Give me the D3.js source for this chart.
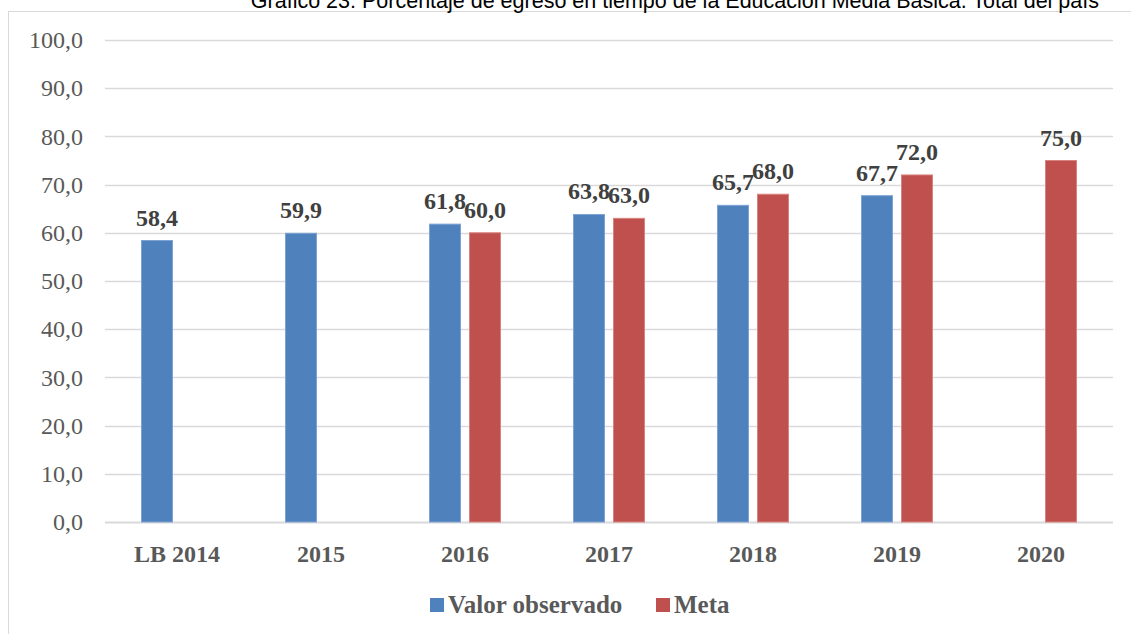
<!DOCTYPE html>
<html>
<head>
<meta charset="utf-8">
<script src="https://cdn.jsdelivr.net/npm/d3@7"></script>
<style>
  body { margin: 0; background: #fff; }
  svg { display: block; }
</style>
</head>
<body>
<div id="container"></div>
<script>
/* CONSTANTS AND GLOBALS */
const width = 1131,
  height = 634,
  margin = { top: 40, bottom: 112, left: 105, right: 18 };

// DATA
const categories = ["LB 2014", "2015", "2016", "2017", "2018", "2019", "2020"];
const valorObservado = [58.4, 59.9, 61.8, 63.8, 65.7, 67.7, null];
const meta = [null, null, 60.0, 63.0, 68.0, 72.0, 75.0];
const seriesNames = ["Valor observado", "Meta"];
const yTicks = [0, 10, 20, 30, 40, 50, 60, 70, 80, 90, 100];
const title = "Gráfico  23: Porcentaje de egreso en tiempo de la Educación Media Básica. Total del país";

const colors = { "Valor observado": "#4f81bd", "Meta": "#c0504d" };
const strokes = { "Valor observado": "#7ea3d3", "Meta": "#d8837f" };
const serifFont = "'Liberation Serif', 'DejaVu Serif', serif";

// build rows
const rows = categories.map((c, i) => ({
  cat: c,
  values: [
    { key: "Valor observado", value: valorObservado[i] },
    { key: "Meta", value: meta[i] }
  ]
}));

const locale = d3.formatLocale({ decimal: ",", thousands: ".", grouping: [3], currency: ["", ""] });
const fmt = locale.format(".1f");

const svg = d3.select("#container").append("svg")
  .attr("width", width)
  .attr("height", height);

// frame of the chart (partially cut)
svg.append("rect")
  .attr("x", 8.5)
  .attr("y", 11.5)
  .attr("width", 1200)
  .attr("height", 700)
  .attr("fill", "#fff")
  .attr("stroke", "#d9d9d9");

// title (cut at top in the reference)
svg.append("text")
  .attr("x", 1099)
  .attr("y", 8)
  .attr("text-anchor", "end")
  .attr("font-family", "'Liberation Sans', Arial, sans-serif")
  .attr("font-size", 21.5)
  .attr("fill", "#000")
  .text(title);

// SCALES
const x0 = d3.scaleBand()
  .domain(categories)
  .range([margin.left, width - margin.right])
  .paddingInner(0.5)
  .paddingOuter(0.25);

const x1 = d3.scaleBand()
  .domain(seriesNames)
  .range([0, x0.bandwidth()])
  .paddingInner(0.2);

const y = d3.scaleLinear()
  .domain([0, 100])
  .range([height - margin.bottom, margin.top]);

// GRIDLINES
svg.append("g")
  .selectAll("line.grid")
  .data(yTicks)
  .join("line")
  .attr("class", "grid")
  .attr("x1", margin.left)
  .attr("x2", width - margin.right)
  .attr("y1", d => Math.round(y(d)) + 0.5)
  .attr("y2", d => Math.round(y(d)) + 0.5)
  .attr("stroke", "#d9d9d9")
  .attr("stroke-width", d => d === 0 ? 2 : 1.5);

// Y AXIS labels
svg.append("g")
  .selectAll("text.ytick")
  .data(yTicks)
  .join("text")
  .attr("class", "ytick")
  .attr("x", 83)
  .attr("y", d => y(d))
  .attr("dy", "0.34em")
  .attr("text-anchor", "end")
  .attr("font-family", serifFont)
  .attr("font-size", 24)
  .attr("fill", "#595959")
  .text(d => fmt(d));

// BARS
const groups = svg.append("g")
  .selectAll("g.cat")
  .data(rows)
  .join("g")
  .attr("class", "cat")
  .attr("transform", d => `translate(${x0(d.cat)},0)`);

groups.selectAll("rect")
  .data(d => d.values.filter(v => v.value != null))
  .join("rect")
  .attr("x", d => x1(d.key) + 0.5)
  .attr("y", d => y(d.value))
  .attr("width", x1.bandwidth() - 1)
  .attr("height", d => y(0) - y(d.value))
  .attr("fill", d => colors[d.key])
  .attr("stroke", d => strokes[d.key])
  .attr("stroke-width", 1);

// DATA LABELS
groups.selectAll("text.lbl")
  .data(d => d.values.filter(v => v.value != null))
  .join("text")
  .attr("class", "lbl")
  .attr("x", d => x1(d.key) + x1.bandwidth() / 2)
  .attr("y", d => y(d.value) - 15)
  .attr("text-anchor", "middle")
  .attr("font-family", serifFont)
  .attr("font-weight", "bold")
  .attr("font-size", 24)
  .attr("fill", "#404040")
  .text(d => fmt(d.value));

// X AXIS labels
svg.append("g")
  .selectAll("text.xtick")
  .data(categories)
  .join("text")
  .attr("class", "xtick")
  .attr("x", d => x0(d) + x0.bandwidth() / 2)
  .attr("y", 562)
  .attr("text-anchor", "middle")
  .attr("font-family", serifFont)
  .attr("font-weight", "bold")
  .attr("font-size", 24)
  .attr("fill", "#595959")
  .text(d => d);

// LEGEND
const legendX = [430, 656];
const legend = svg.append("g")
  .selectAll("g.legend")
  .data(seriesNames)
  .join("g")
  .attr("class", "legend")
  .attr("transform", (d, i) => `translate(${legendX[i]}, 598)`);

legend.append("rect")
  .attr("width", 14)
  .attr("height", 14)
  .attr("fill", d => colors[d]);

legend.append("text")
  .attr("x", 18)
  .attr("y", 15)
  .attr("font-family", serifFont)
  .attr("font-weight", "bold")
  .attr("font-size", 25)
  .attr("fill", "#595959")
  .text(d => d);
</script>
</body>
</html>
